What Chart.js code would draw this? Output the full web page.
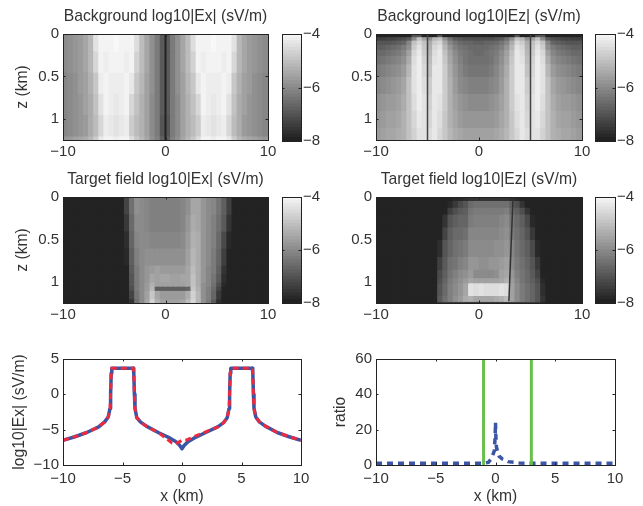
<!DOCTYPE html>
<html>
<head>
<meta charset="utf-8">
<script src="https://cdn.jsdelivr.net/npm/chart.js@4"></script>
<style>
body { margin: 0; background: #fff; }
canvas { position: absolute; }
</style>
</head>
<body>
<canvas id="ex1" width="282" height="165" style="left:0;top:0"></canvas>
<canvas id="cb1" width="45" height="165" style="left:275px;top:0"></canvas>
<canvas id="ez1" width="276" height="165" style="left:320px;top:0"></canvas>
<canvas id="cb2" width="55" height="165" style="left:588px;top:0"></canvas>
<canvas id="ex2" width="282" height="165" style="left:0;top:165px"></canvas>
<canvas id="cb3" width="45" height="165" style="left:275px;top:165px"></canvas>
<canvas id="ez2" width="276" height="165" style="left:320px;top:165px"></canvas>
<canvas id="cb4" width="55" height="165" style="left:588px;top:165px"></canvas>
<canvas id="lineEx" width="315" height="171" style="left:0;top:335px"></canvas>
<canvas id="lineRatio" width="323" height="171" style="left:320px;top:335px"></canvas>
<script>
var xCols = [-9.75,-9.25,-8.75,-8.25,-7.75,-7.25,-6.75,-6.25,-5.75,-5.25,-4.75,-4.25,-3.75,-3.25,-2.75,-2.25,-1.75,-1.25,-0.75,-0.25,
  0.25,0.75,1.25,1.75,2.25,2.75,3.25,3.75,4.25,4.75,5.25,5.75,6.25,6.75,7.25,7.75,8.25,8.75,9.25,9.75];
var cbLevels = [-8,-7.875,-7.75,-7.625,-7.5,-7.375,-7.25,-7.125,-7,-6.875,-6.75,-6.625,-6.5,-6.375,-6.25,-6.125,-6,-5.875,-5.75,-5.625,-5.5,-5.375,-5.25,-5.125,-5,-4.875,-4.75,-4.625,-4.5,-4.375,-4.25,-4.125,-4];

// background Ex
var ex1Edges = [0,0.2,0.45,0.7,0.95,1.2,1.25];
var ex1Rows = [
[-6.0,-5.9,-5.8,-5.7,-5.5,-5.2,-4.4,-4.1,-4.1,-4.1,-4.0,-4.1,-4.1,-4.1,-4.5,-5.1,-5.5,-5.9,-6.3,-6.9,-6.9,-6.3,-5.9,-5.5,-5.1,-4.5,-4.1,-4.1,-4.1,-4.0,-4.1,-4.1,-4.1,-4.4,-5.2,-5.5,-5.7,-5.8,-5.9,-6.0],
[-6.0,-5.9,-5.8,-5.7,-5.5,-5.2,-4.6,-4.1,-4.2,-4.1,-4.1,-4.1,-4.2,-4.1,-4.7,-5.1,-5.5,-5.9,-6.3,-6.9,-6.9,-6.3,-5.9,-5.5,-5.1,-4.7,-4.1,-4.2,-4.1,-4.1,-4.1,-4.2,-4.1,-4.6,-5.2,-5.5,-5.7,-5.8,-5.9,-6.0],
[-6.1,-6.0,-5.9,-5.7,-5.6,-5.3,-4.9,-4.2,-4.1,-4.2,-4.2,-4.2,-4.1,-4.3,-4.9,-5.2,-5.6,-5.9,-6.3,-6.9,-6.9,-6.3,-5.9,-5.6,-5.2,-4.9,-4.3,-4.1,-4.2,-4.2,-4.2,-4.1,-4.2,-4.9,-5.3,-5.6,-5.7,-5.9,-6.0,-6.1],
[-6.1,-6.0,-5.9,-5.8,-5.6,-5.4,-5.0,-4.4,-4.1,-4.2,-4.3,-4.2,-4.1,-4.6,-5.0,-5.3,-5.6,-6.0,-6.3,-6.9,-6.9,-6.3,-6.0,-5.6,-5.3,-5.0,-4.6,-4.1,-4.2,-4.3,-4.2,-4.1,-4.4,-5.0,-5.4,-5.6,-5.8,-5.9,-6.0,-6.1],
[-6.1,-6.0,-5.9,-5.8,-5.7,-5.4,-5.1,-4.6,-4.2,-4.3,-4.4,-4.3,-4.2,-4.8,-5.1,-5.3,-5.6,-6.0,-6.3,-7.0,-7.0,-6.3,-6.0,-5.6,-5.3,-5.1,-4.8,-4.2,-4.3,-4.4,-4.3,-4.2,-4.6,-5.1,-5.4,-5.7,-5.8,-5.9,-6.0,-6.1],
[-5.8,-5.7,-5.6,-5.5,-5.4,-5.2,-4.8,-4.3,-4.1,-4.1,-4.2,-4.1,-4.1,-4.5,-4.9,-5.2,-5.5,-5.9,-6.2,-6.8,-6.8,-6.2,-5.9,-5.5,-5.2,-4.9,-4.5,-4.1,-4.1,-4.2,-4.1,-4.1,-4.3,-4.8,-5.2,-5.4,-5.5,-5.6,-5.7,-5.8]
];
var ex1LineX = [0,0];
var ex1LineZ = [0,1.25];

// background Ez
var ez1Edges = [0,0.03,0.07,0.12,0.18,0.25,0.35,0.5,0.7,0.9,1.1,1.25];
var ez1Rows = [
[-7.9,-7.9,-7.9,-7.9,-7.9,-7.9,-7.9,-7.0,-7.0,-7.9,-7.9,-7.9,-7.0,-7.9,-7.9,-7.9,-7.9,-7.9,-7.9,-7.9,-7.9,-7.9,-7.9,-7.9,-7.9,-7.9,-7.9,-7.0,-7.9,-7.9,-7.9,-7.0,-7.0,-7.9,-7.9,-7.9,-7.9,-7.9,-7.9,-7.9],
[-7.4,-7.4,-7.3,-7.3,-7.2,-7.1,-6.9,-6.0,-5.0,-5.6,-5.9,-5.2,-5.0,-5.9,-6.5,-6.9,-7.0,-7.1,-7.1,-7.1,-7.1,-7.1,-7.1,-7.0,-6.9,-6.5,-5.9,-5.0,-5.2,-5.9,-5.6,-5.0,-6.0,-6.9,-7.1,-7.2,-7.3,-7.3,-7.4,-7.4],
[-7.0,-7.0,-7.0,-6.9,-6.8,-6.7,-6.1,-5.0,-4.6,-5.0,-5.4,-4.8,-4.6,-5.4,-6.1,-6.4,-6.6,-6.7,-6.7,-6.8,-6.8,-6.7,-6.7,-6.6,-6.4,-6.1,-5.4,-4.6,-4.8,-5.4,-5.0,-4.6,-5.0,-6.1,-6.7,-6.8,-6.9,-7.0,-7.0,-7.0],
[-6.8,-6.8,-6.7,-6.6,-6.5,-6.3,-5.9,-4.8,-4.4,-4.9,-5.3,-4.6,-4.4,-5.2,-5.8,-6.2,-6.4,-6.5,-6.6,-6.6,-6.6,-6.6,-6.5,-6.4,-6.2,-5.8,-5.2,-4.4,-4.6,-5.3,-4.9,-4.4,-4.8,-5.9,-6.3,-6.5,-6.6,-6.7,-6.8,-6.8],
[-6.6,-6.6,-6.5,-6.4,-6.3,-6.1,-5.6,-4.6,-4.3,-4.8,-5.2,-4.5,-4.3,-5.0,-5.6,-6.0,-6.3,-6.4,-6.5,-6.6,-6.6,-6.5,-6.4,-6.3,-6.0,-5.6,-5.0,-4.3,-4.5,-5.2,-4.8,-4.3,-4.6,-5.6,-6.1,-6.3,-6.4,-6.5,-6.6,-6.6],
[-6.5,-6.4,-6.3,-6.2,-6.1,-5.9,-5.4,-4.5,-4.2,-4.7,-5.1,-4.4,-4.3,-4.9,-5.5,-5.9,-6.2,-6.4,-6.5,-6.5,-6.5,-6.5,-6.4,-6.2,-5.9,-5.5,-4.9,-4.3,-4.4,-5.1,-4.7,-4.2,-4.5,-5.4,-5.9,-6.1,-6.2,-6.3,-6.4,-6.5],
[-6.3,-6.2,-6.1,-6.0,-5.9,-5.7,-5.2,-4.4,-4.2,-4.6,-5.0,-4.3,-4.3,-4.8,-5.4,-5.8,-6.1,-6.3,-6.4,-6.4,-6.4,-6.4,-6.3,-6.1,-5.8,-5.4,-4.8,-4.3,-4.3,-5.0,-4.6,-4.2,-4.4,-5.2,-5.7,-5.9,-6.0,-6.1,-6.2,-6.3],
[-6.1,-6.0,-5.9,-5.8,-5.7,-5.5,-5.0,-4.4,-4.2,-4.5,-4.8,-4.3,-4.3,-4.8,-5.3,-5.7,-6.0,-6.1,-6.2,-6.2,-6.2,-6.2,-6.1,-6.0,-5.7,-5.3,-4.8,-4.3,-4.3,-4.8,-4.5,-4.2,-4.4,-5.0,-5.5,-5.7,-5.8,-5.9,-6.0,-6.1],
[-5.9,-5.8,-5.7,-5.7,-5.6,-5.4,-5.0,-4.5,-4.2,-4.4,-4.7,-4.3,-4.4,-4.8,-5.3,-5.6,-5.8,-5.9,-6.0,-6.0,-6.0,-6.0,-5.9,-5.8,-5.6,-5.3,-4.8,-4.4,-4.3,-4.7,-4.4,-4.2,-4.5,-5.0,-5.4,-5.6,-5.7,-5.7,-5.8,-5.9],
[-5.8,-5.7,-5.6,-5.6,-5.5,-5.3,-5.0,-4.6,-4.3,-4.4,-4.6,-4.3,-4.5,-4.9,-5.3,-5.5,-5.7,-5.8,-5.8,-5.8,-5.8,-5.8,-5.8,-5.7,-5.5,-5.3,-4.9,-4.5,-4.3,-4.6,-4.4,-4.3,-4.6,-5.0,-5.3,-5.5,-5.6,-5.6,-5.7,-5.8],
[-5.7,-5.6,-5.5,-5.5,-5.4,-5.3,-5.0,-4.7,-4.4,-4.4,-4.5,-4.3,-4.6,-4.9,-5.2,-5.4,-5.5,-5.6,-5.6,-5.6,-5.6,-5.6,-5.6,-5.5,-5.4,-5.2,-4.9,-4.6,-4.3,-4.5,-4.4,-4.4,-4.7,-5.0,-5.3,-5.4,-5.5,-5.5,-5.6,-5.7]
];
var ez1LineLeftX = [-5,-5];
var ez1LineRightX = [5,5];
var ez1LineZ = [0,1.25];

// target Ex
var ex2Edges = [0,0.2,0.4,0.6,0.8,0.9,1,1.05,1.1,1.2,1.25];
var ex2Rows = [
[-7.9,-7.9,-7.9,-7.9,-7.9,-7.9,-7.9,-7.9,-7.9,-7.9,-7.9,-7.9,-7.3,-6.5,-5.9,-6.0,-6.1,-6.2,-6.2,-6.2,-6.2,-6.2,-6.2,-6.1,-5.9,-5.5,-5.5,-5.8,-6.0,-6.1,-6.4,-6.8,-7.4,-7.9,-7.9,-7.9,-7.9,-7.9,-7.9,-7.9],
[-7.9,-7.9,-7.9,-7.9,-7.9,-7.9,-7.9,-7.9,-7.9,-7.9,-7.9,-7.9,-7.5,-6.6,-6.0,-6.0,-6.1,-6.2,-6.2,-6.2,-6.2,-6.2,-6.2,-6.1,-5.8,-5.4,-5.5,-5.8,-6.0,-6.2,-6.5,-6.9,-7.6,-7.9,-7.9,-7.9,-7.9,-7.9,-7.9,-7.9],
[-7.9,-7.9,-7.9,-7.9,-7.9,-7.9,-7.9,-7.9,-7.9,-7.9,-7.9,-7.9,-7.7,-6.7,-6.1,-6.0,-6.0,-6.1,-6.1,-6.1,-6.1,-6.1,-6.1,-6.0,-5.7,-5.3,-5.4,-5.8,-6.0,-6.2,-6.6,-7.2,-7.8,-7.9,-7.9,-7.9,-7.9,-7.9,-7.9,-7.9],
[-7.9,-7.9,-7.9,-7.9,-7.9,-7.9,-7.9,-7.9,-7.9,-7.9,-7.9,-7.9,-7.8,-6.8,-6.2,-6.0,-5.9,-5.9,-5.9,-5.9,-5.9,-5.9,-5.9,-5.9,-5.6,-5.2,-5.4,-5.8,-6.0,-6.3,-6.7,-7.4,-7.9,-7.9,-7.9,-7.9,-7.9,-7.9,-7.9,-7.9],
[-7.9,-7.9,-7.9,-7.9,-7.9,-7.9,-7.9,-7.9,-7.9,-7.9,-7.9,-7.9,-7.9,-6.9,-6.3,-6.0,-5.8,-5.7,-5.6,-5.7,-5.7,-5.7,-5.7,-5.7,-5.5,-5.1,-5.4,-5.8,-6.1,-6.3,-6.8,-7.6,-7.9,-7.9,-7.9,-7.9,-7.9,-7.9,-7.9,-7.9],
[-7.9,-7.9,-7.9,-7.9,-7.9,-7.9,-7.9,-7.9,-7.9,-7.9,-7.9,-7.9,-7.9,-7.0,-6.3,-6.0,-5.8,-5.5,-5.6,-5.5,-5.5,-5.6,-5.6,-5.5,-5.5,-5.0,-5.4,-5.8,-6.1,-6.4,-6.9,-7.7,-7.9,-7.9,-7.9,-7.9,-7.9,-7.9,-7.9,-7.9],
[-7.9,-7.9,-7.9,-7.9,-7.9,-7.9,-7.9,-7.9,-7.9,-7.9,-7.9,-7.9,-7.9,-7.0,-6.3,-6.0,-5.7,-5.3,-5.6,-5.6,-5.6,-5.6,-5.6,-5.6,-5.5,-5.0,-5.4,-5.9,-6.1,-6.5,-7.1,-7.8,-7.9,-7.9,-7.9,-7.9,-7.9,-7.9,-7.9,-7.9],
[-7.9,-7.9,-7.9,-7.9,-7.9,-7.9,-7.9,-7.9,-7.9,-7.9,-7.9,-7.9,-7.9,-7.1,-6.3,-6.0,-5.7,-5.2,-6.8,-6.8,-6.8,-6.8,-6.8,-6.8,-6.7,-4.9,-5.3,-5.9,-6.2,-6.6,-7.3,-7.9,-7.9,-7.9,-7.9,-7.9,-7.9,-7.9,-7.9,-7.9],
[-7.9,-7.9,-7.9,-7.9,-7.9,-7.9,-7.9,-7.9,-7.9,-7.9,-7.9,-7.9,-7.9,-7.3,-6.4,-6.0,-5.6,-4.9,-5.5,-5.7,-5.7,-5.7,-5.7,-5.7,-5.4,-4.7,-5.2,-5.9,-6.2,-6.7,-7.5,-7.9,-7.9,-7.9,-7.9,-7.9,-7.9,-7.9,-7.9,-7.9],
[-7.9,-7.9,-7.9,-7.9,-7.9,-7.9,-7.9,-7.9,-7.9,-7.9,-7.9,-7.9,-7.9,-7.6,-6.5,-6.0,-5.5,-4.7,-5.3,-5.6,-5.6,-5.6,-5.6,-5.5,-5.1,-4.6,-5.2,-5.9,-6.3,-6.9,-7.7,-7.9,-7.9,-7.9,-7.9,-7.9,-7.9,-7.9,-7.9,-7.9]
];

// target Ez
var ez2Edges = [0,0.04,0.12,0.2,0.35,0.5,0.7,0.85,0.95,1.01,1.16,1.23,1.25];
var ez2Rows = [
[-7.9,-7.9,-7.9,-7.9,-7.9,-7.9,-7.9,-7.9,-7.9,-7.9,-7.9,-7.9,-7.9,-7.9,-7.9,-7.8,-7.8,-7.7,-7.6,-7.6,-7.6,-7.6,-7.6,-7.6,-7.6,-7.6,-7.7,-7.8,-7.9,-7.9,-7.9,-7.9,-7.9,-7.9,-7.9,-7.9,-7.9,-7.9,-7.9,-7.9],
[-7.9,-7.9,-7.9,-7.9,-7.9,-7.9,-7.9,-7.9,-7.9,-7.9,-7.9,-7.9,-7.9,-7.9,-7.8,-7.5,-7.2,-7.0,-6.6,-6.5,-6.5,-6.5,-6.5,-6.5,-6.5,-6.5,-6.8,-7.1,-7.6,-7.9,-7.9,-7.9,-7.9,-7.9,-7.9,-7.9,-7.9,-7.9,-7.9,-7.9],
[-7.9,-7.9,-7.9,-7.9,-7.9,-7.9,-7.9,-7.9,-7.9,-7.9,-7.9,-7.9,-7.9,-7.9,-7.4,-7.1,-6.9,-6.8,-6.4,-6.3,-6.3,-6.3,-6.3,-6.3,-6.3,-6.2,-6.6,-6.8,-7.1,-7.6,-7.9,-7.9,-7.9,-7.9,-7.9,-7.9,-7.9,-7.9,-7.9,-7.9],
[-7.9,-7.9,-7.9,-7.9,-7.9,-7.9,-7.9,-7.9,-7.9,-7.9,-7.9,-7.9,-7.9,-7.6,-7.0,-6.8,-6.7,-6.7,-6.3,-6.2,-6.2,-6.2,-6.2,-6.2,-6.1,-6.0,-6.4,-6.6,-6.8,-7.2,-7.8,-7.9,-7.9,-7.9,-7.9,-7.9,-7.9,-7.9,-7.9,-7.9],
[-7.9,-7.9,-7.9,-7.9,-7.9,-7.9,-7.9,-7.9,-7.9,-7.9,-7.9,-7.9,-7.9,-7.3,-6.8,-6.6,-6.6,-6.5,-6.1,-6.1,-6.1,-6.1,-6.1,-6.1,-6.0,-5.9,-6.3,-6.5,-6.7,-7.0,-7.5,-7.9,-7.9,-7.9,-7.9,-7.9,-7.9,-7.9,-7.9,-7.9],
[-7.9,-7.9,-7.9,-7.9,-7.9,-7.9,-7.9,-7.9,-7.9,-7.9,-7.9,-7.9,-7.7,-7.0,-6.7,-6.5,-6.4,-6.3,-6.0,-6.0,-6.0,-6.0,-6.0,-5.9,-5.9,-5.8,-6.1,-6.4,-6.6,-6.8,-7.2,-7.8,-7.9,-7.9,-7.9,-7.9,-7.9,-7.9,-7.9,-7.9],
[-7.9,-7.9,-7.9,-7.9,-7.9,-7.9,-7.9,-7.9,-7.9,-7.9,-7.9,-7.9,-7.4,-6.9,-6.5,-6.4,-6.2,-6.1,-5.8,-5.8,-5.9,-5.9,-5.8,-5.8,-5.7,-5.6,-6.0,-6.3,-6.5,-6.7,-7.0,-7.5,-7.9,-7.9,-7.9,-7.9,-7.9,-7.9,-7.9,-7.9],
[-7.9,-7.9,-7.9,-7.9,-7.9,-7.9,-7.9,-7.9,-7.9,-7.9,-7.9,-7.9,-7.2,-6.8,-6.4,-6.2,-6.0,-5.9,-5.7,-6.0,-6.0,-6.0,-6.0,-5.9,-5.6,-5.5,-5.8,-6.2,-6.4,-6.6,-6.9,-7.3,-7.9,-7.9,-7.9,-7.9,-7.9,-7.9,-7.9,-7.9],
[-7.9,-7.9,-7.9,-7.9,-7.9,-7.9,-7.9,-7.9,-7.9,-7.9,-7.9,-7.9,-7.1,-6.7,-6.3,-6.1,-5.9,-5.7,-5.5,-5.6,-5.6,-5.6,-5.6,-5.6,-5.5,-5.3,-5.7,-6.1,-6.4,-6.6,-6.8,-7.1,-7.8,-7.9,-7.9,-7.9,-7.9,-7.9,-7.9,-7.9],
[-7.9,-7.9,-7.9,-7.9,-7.9,-7.9,-7.9,-7.9,-7.9,-7.9,-7.9,-7.9,-7.0,-6.6,-6.2,-6.0,-5.8,-5.5,-4.4,-4.5,-4.4,-4.5,-4.5,-4.5,-4.4,-4.5,-5.6,-6.0,-6.3,-6.5,-6.7,-7.0,-7.7,-7.9,-7.9,-7.9,-7.9,-7.9,-7.9,-7.9],
[-7.9,-7.9,-7.9,-7.9,-7.9,-7.9,-7.9,-7.9,-7.9,-7.9,-7.9,-7.9,-6.9,-6.5,-6.2,-5.9,-5.7,-5.4,-5.3,-5.5,-5.5,-5.5,-5.5,-5.4,-5.3,-5.1,-5.6,-6.0,-6.3,-6.5,-6.7,-7.0,-7.6,-7.9,-7.9,-7.9,-7.9,-7.9,-7.9,-7.9],
[-7.9,-7.9,-7.9,-7.9,-7.9,-7.9,-7.9,-7.9,-7.9,-7.9,-7.9,-7.9,-7.5,-7.4,-7.4,-7.4,-7.4,-7.4,-7.5,-7.5,-7.5,-7.5,-7.5,-7.5,-7.5,-7.5,-7.4,-7.4,-7.4,-7.4,-7.4,-7.5,-7.8,-7.9,-7.9,-7.9,-7.9,-7.9,-7.9,-7.9]
];
var ez2LineX = [3.3,2.9];
var ez2LineZ = [0.02,1.23];

// line panels
var exX = [-10,-9,-8,-7,-6.5,-6.2,-6.05,-6,-5.95,-5.9,-4.1,-4.05,-4,-3.95,-3.8,-3.5,-3,-2,-1,-0.5,-0.2,0,0.2,0.5,1,2,3,3.5,3.8,3.95,4,4.05,4.1,5.9,5.95,6,6.05,6.2,6.5,7,8,9,10];
var exBlue = [-6.5,-6,-5.4,-4.6,-3.9,-3.2,-2,0,3,3.7,3.7,3,0,-2,-3.3,-3.9,-4.5,-5.4,-6.2,-6.7,-7.2,-7.7,-7.2,-6.7,-6.2,-5.4,-4.6,-4,-3.3,-2,0,3,3.7,3.7,3,0,-2,-3.2,-3.9,-4.5,-5.4,-6,-6.5];
var redX = [-10,-9,-8,-7,-6.5,-6.2,-6.05,-6,-5.95,-5.9,-4.1,-4.05,-4,-3.95,-3.8,-3.5,-3,-2,-1.2,-0.84,-0.4,0,0.4,1,2,3,3.5,3.8,3.95,4,4.05,4.1,5.9,5.95,6,6.05,6.2,6.5,7,8,9,10];
var exRed = [-6.5,-6,-5.4,-4.6,-3.9,-3.2,-2,0,3,3.7,3.7,3,0,-2,-3.3,-3.9,-4.5,-5.4,-6.4,-6.9,-6.9,-6.5,-6.45,-6,-5.3,-4.6,-4,-3.3,-2,0,3,3.7,3.7,3,0,-2,-3.2,-3.9,-4.5,-5.4,-6,-6.5];
var ratioX = [-10,-5,-1,-0.6,-0.33,-0.1,-0.03,0,0.03,0.08,0.3,0.6,1.05,2,3,10];
var ratioY = [1,1,1,1.5,3.8,8,16,24,16,10,5,3.2,1.9,1.1,1,1];
var ratioEdges = [-1,3];
var ratioLimits = [0,60];

var textColor = '#333333';
var frameColor = '#222222';
var tickSize = 15;
var labelSize = 15.7;

function grayOf(v) {
    var g = Math.round(30 + (v + 8) / 4 * 218);
    return 'rgb(' + g + ',' + g + ',' + g + ')';
}
function minusLabel(value) {
    return String(value).replace('-', '\u2212');
}
function toPoints(xs, ys) {
    return xs.map(function(x, i) { return {x: x, y: ys[i]}; });
}

// box and inward ticks like the original figure
var framePlugin = {
    id: 'frame',
    afterDraw: function(chart) {
        var c = chart.ctx, a = chart.chartArea;
        c.save();
        c.strokeStyle = frameColor;
        c.lineWidth = 1;
        c.strokeRect(Math.round(a.left) + 0.5, Math.round(a.top) + 0.5, Math.round(a.right - a.left), Math.round(a.bottom - a.top));
        c.beginPath();
        if (chart.scales.x) {
            chart.scales.x.ticks.forEach(function(t) {
                var p = Math.round(chart.scales.x.getPixelForValue(t.value)) + 0.5;
                c.moveTo(p, a.top); c.lineTo(p, a.top + 2.5);
                c.moveTo(p, a.bottom); c.lineTo(p, a.bottom - 2.5);
            });
        }
        chart.scales.y.ticks.forEach(function(t) {
            var p = Math.round(chart.scales.y.getPixelForValue(t.value)) + 0.5;
            c.moveTo(a.left, p); c.lineTo(a.left + 2.5, p);
            c.moveTo(a.right, p); c.lineTo(a.right - 2.5, p);
        });
        c.stroke();
        c.restore();
    }
};

function xAxis(step, height, label, pad) {
    var ax = {
        type: 'linear', min: -10, max: 10, offset: false,
        grid: {display: false, drawTicks: false, offset: false}, border: {display: false},
        ticks: {stepSize: step, maxRotation: 0, padding: pad, color: textColor, font: {size: tickSize}, callback: minusLabel},
        afterFit: function(s) { s.height = height; }
    };
    if (label) ax.title = {display: true, text: label, color: textColor, font: {size: labelSize}, padding: {top: 0, bottom: 0}};
    return ax;
}
function yAxis(min, max, step, width, label, reverse, titlePad) {
    var ax = {
        type: 'linear', min: min, max: max, reverse: !!reverse,
        grid: {display: false, drawTicks: false}, border: {display: false},
        ticks: {stepSize: step, includeBounds: false, padding: 4, color: textColor, font: {size: tickSize}, callback: minusLabel},
        afterFit: function(s) { s.width = width; }
    };
    if (label) ax.title = {display: true, text: label, color: textColor, font: {size: labelSize}, padding: {top: titlePad, bottom: 0}};
    return ax;
}

function heatChart(id, title, rows, edges, lines, o) {
    var datasets = rows.map(function(row, r) {
        return {
            order: 2,
            xAxisID: 'xc', yAxisID: 'y',
            data: row.map(function() { return [edges[r], edges[r + 1]]; }),
            backgroundColor: row.map(grayOf),
            barPercentage: 1, categoryPercentage: 1, grouped: false, borderWidth: 0, inflateAmount: 0.6
        };
    });
    lines.forEach(function(l) {
        datasets.push({
            type: 'scatter', order: 1, xAxisID: 'x', yAxisID: 'y', showLine: true,
            data: toPoints(l.x, l.z), borderColor: l.color, borderWidth: l.width, pointRadius: 0
        });
    });
    return new Chart(document.getElementById(id), {
        type: 'bar',
        data: {labels: xCols, datasets: datasets},
        options: {
            responsive: false, animation: false,
            layout: {autoPadding: false, padding: {right: o.right}},
            plugins: {
                legend: {display: false}, tooltip: {enabled: false},
                title: {display: true, text: title, color: textColor, font: {size: labelSize, weight: 'normal'}, fullSize: false, padding: {top: o.titleTop, bottom: o.titleBottom}}
            },
            scales: {
                xc: {type: 'category', axis: 'x', display: false},
                x: xAxis(10, o.xHeight, null, 3),
                y: yAxis(0, 1.25, 0.5, o.yWidth, o.yLabel, true, 13.3)
            }
        },
        plugins: [framePlugin]
    });
}

function colorbar(id, o) {
    var datasets = cbLevels.slice(0, -1).map(function(lv, i) {
        return {
            xAxisID: 'xc', yAxisID: 'y',
            data: [[lv, cbLevels[i + 1]]],
            backgroundColor: grayOf(lv + 0.06),
            barPercentage: 1, categoryPercentage: 1, grouped: false, borderWidth: 0, inflateAmount: 0.6
        };
    });
    var y = yAxis(-8, -4, 2, o.axisWidth);
    y.position = 'right';
    y.ticks.padding = 2;
    return new Chart(document.getElementById(id), {
        type: 'bar',
        data: {labels: ['cb'], datasets: datasets},
        options: {
            responsive: false, animation: false,
            layout: {autoPadding: false, padding: {left: 7, top: o.top, bottom: o.bottom}},
            plugins: {legend: {display: false}, tooltip: {enabled: false}},
            scales: {xc: {type: 'category', axis: 'x', display: false}, y: y}
        },
        plugins: [framePlugin]
    });
}

function lineChart(id, datasets, y, right) {
    return new Chart(document.getElementById(id), {
        type: 'scatter',
        data: {datasets: datasets},
        options: {
            responsive: false, animation: false,
            layout: {autoPadding: false, padding: {top: 24, right: right}},
            plugins: {legend: {display: false}, tooltip: {enabled: false}},
            scales: {x: xAxis(5, 41, 'x (km)', 4.5), y: y}
        },
        plugins: [framePlugin]
    });
}

Chart.defaults.font.family = '"Liberation Sans", Arial, sans-serif';

heatChart('ex1', 'Background log10|Ex| (sV/m)', ex1Rows, ex1Edges,
    [{x: ex1LineX, z: ex1LineZ, color: '#222222', width: 2}],
    {right: 14, titleTop: 7.3, titleBottom: 7.86, xHeight: 25, yWidth: 63, yLabel: 'z (km)'});
heatChart('ez1', 'Background log10|Ez| (sV/m)', ez1Rows, ez1Edges,
    [{x: ez1LineLeftX, z: ez1LineZ, color: '#444444', width: 1.5}, {x: ez1LineRightX, z: ez1LineZ, color: '#444444', width: 1.5}],
    {right: 14, titleTop: 7.3, titleBottom: 7.86, xHeight: 25, yWidth: 56});
heatChart('ex2', 'Target field log10|Ex| (sV/m)', ex2Rows, ex2Edges, [],
    {right: 14, titleTop: 5.3, titleBottom: 7.86, xHeight: 27, yWidth: 63, yLabel: 'z (km)'});
heatChart('ez2', 'Target field log10|Ez| (sV/m)', ez2Rows, ez2Edges,
    [{x: ez2LineX, z: ez2LineZ, color: '#333333', width: 1.5}],
    {right: 14, titleTop: 5.3, titleBottom: 7.86, xHeight: 27, yWidth: 56});

colorbar('cb1', {top: 34, bottom: 24, axisWidth: 19});
colorbar('cb2', {top: 34, bottom: 24, axisWidth: 28});
colorbar('cb3', {top: 32, bottom: 27, axisWidth: 19});
colorbar('cb4', {top: 32, bottom: 27, axisWidth: 28});

lineChart('lineEx', [
    {order: 2, data: toPoints(exX, exBlue), showLine: true, borderColor: '#3a55a5', borderWidth: 3.5, borderJoinStyle: 'round', pointRadius: 0},
    {order: 1, data: toPoints(redX, exRed), showLine: true, borderColor: '#ee2a3c', borderWidth: 3, borderDash: [6, 4], pointRadius: 0}
], yAxis(-10, 5, 5, 63, 'log10|Ex| (sV/m)', false, 10.6), 14);

lineChart('lineRatio', [
    {data: toPoints([ratioEdges[0], ratioEdges[0]], ratioLimits), showLine: true, borderColor: '#6abf4b', borderWidth: 3, pointRadius: 0},
    {data: toPoints([ratioEdges[1], ratioEdges[1]], ratioLimits), showLine: true, borderColor: '#6abf4b', borderWidth: 3, pointRadius: 0},
    {data: toPoints(ratioX, ratioY), showLine: true, borderColor: '#3a55a5', borderWidth: 3.5, borderDash: [6, 5], pointRadius: 0}
], yAxis(0, 60, 20, 56, 'ratio', false, 11.3), 28);
</script>
</body>
</html>
